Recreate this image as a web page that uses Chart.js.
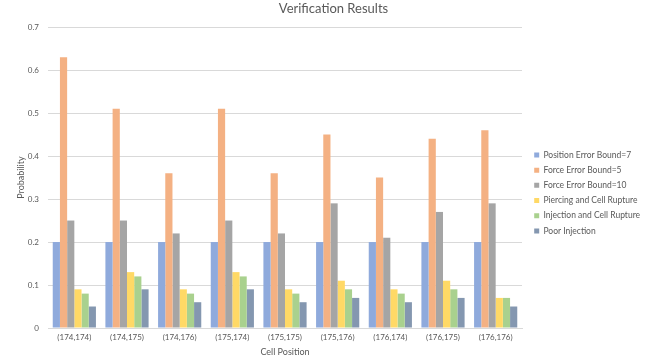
<!DOCTYPE html>
<html>
<head>
<meta charset="utf-8">
<script src="https://cdn.jsdelivr.net/npm/chart.js@4/dist/chart.umd.min.js"></script>
<style>
  html, body { margin: 0; padding: 0; background: #fff; }
  #wrap { width: 657px; height: 358px; }
</style>
</head>
<body>
<div id="wrap"><canvas id="c" width="657" height="358"></canvas></div>
<script>
// Verification outcome probabilities per cell position
const categories = ['(174,174)', '(174,175)', '(174,176)', '(175,174)', '(175,175)', '(175,176)', '(176,174)', '(176,175)', '(176,176)'];
const seriesNames = ['Position Error Bound=7', 'Force Error Bound=5', 'Force Error Bound=10', 'Piercing and Cell Rupture', 'Injection and Cell Rupture', 'Poor Injection'];
const positionBound7 = [0.2, 0.2, 0.2, 0.2, 0.2, 0.2, 0.2, 0.2, 0.2];
const forceBound5    = [0.63, 0.51, 0.36, 0.51, 0.36, 0.45, 0.35, 0.44, 0.46];
const forceBound10   = [0.25, 0.25, 0.22, 0.25, 0.22, 0.29, 0.21, 0.27, 0.29];
const piercingRupture  = [0.09, 0.13, 0.09, 0.13, 0.09, 0.11, 0.09, 0.11, 0.07];
const injectionRupture = [0.08, 0.12, 0.08, 0.12, 0.08, 0.09, 0.08, 0.09, 0.07];
const poorInjection    = [0.05, 0.09, 0.06, 0.09, 0.06, 0.07, 0.06, 0.07, 0.05];
const yTicks = [0, 0.1, 0.2, 0.3, 0.4, 0.5, 0.6, 0.7];

const seriesValues = [positionBound7, forceBound5, forceBound10, piercingRupture, injectionRupture, poorInjection];
const colors = ['#8FAADC', '#F4B183', '#A5A5A5', '#FFD966', '#A9D18E', '#8497B0'];

const FONT = 'Lato, "Open Sans", "DejaVu Sans", sans-serif';
const TEXT = '#595959';

// Fixed legend column on the right side of the plot
const legendPlacement = {
  id: 'legendPlacement',
  beforeLayout(chart) {
    const lg = chart.legend;
    if (lg && !lg._fixedFit) {
      const fit = lg.fit.bind(lg);
      lg.fit = function () { fit(); this.width = 135; };
      lg._fixedFit = true;
    }
  },
  afterLayout(chart) {
    const lg = chart.legend;
    if (!lg) return;
    const w = lg.width, h = lg.height;
    lg.left = 527.5; lg.right = lg.left + w;
    lg.top = 144; lg.bottom = lg.top + h;
  }
};

new Chart(document.getElementById('c'), {
  type: 'bar',
  data: {
    labels: categories,
    datasets: seriesNames.map((name, i) => ({
      label: name,
      data: seriesValues[i],
      backgroundColor: colors[i],
      borderWidth: 0,
      categoryPercentage: 0.82,
      barPercentage: 1.0
    }))
  },
  options: {
    responsive: false,
    animation: false,
    layout: { padding: { left: 10, right: 0, top: 0, bottom: 0 } },
    plugins: {
      title: {
        display: true,
        text: 'Verification Results',
        color: TEXT,
        font: { family: FONT, size: 13, weight: 'normal' },
        padding: { top: 1.5, bottom: 10 }
      },
      legend: {
        position: 'right',
        align: 'start',
        labels: {
          boxWidth: 5,
          boxHeight: 5,
          padding: 6.7,
          color: TEXT,
          font: { family: FONT, size: 8.5 }
        }
      },
      tooltip: { enabled: false }
    },
    scales: {
      x: {
        grid: { display: false, drawTicks: false },
        border: { display: true, color: '#D9D9D9', width: 1 },
        ticks: { color: TEXT, font: { family: FONT, size: 8 }, padding: 5, maxRotation: 0, autoSkip: false },
        title: { display: true, text: 'Cell Position', color: TEXT, font: { family: FONT, size: 9 }, padding: { top: 0, bottom: 0.6 } },
        afterFit(scale) { scale.height = 30; }
      },
      y: {
        min: 0,
        max: 0.7,
        afterBuildTicks(scale) { scale.ticks = yTicks.map(v => ({ value: v })); },
        grid: { color: '#D9D9D9', lineWidth: 1, drawTicks: false },
        border: { display: false },
        ticks: {
          color: TEXT,
          font: { family: FONT, size: 8 },
          padding: 9,
          callback: v => (v === 0 ? '0' : v.toFixed(1))
        },
        title: { display: true, text: 'Probability', color: TEXT, font: { family: FONT, size: 9 }, padding: { top: 5.6, bottom: 0 } },
        afterFit(scale) { scale.width = 38; }
      }
    }
  },
  plugins: [legendPlacement]
});
</script>
</body>
</html>
